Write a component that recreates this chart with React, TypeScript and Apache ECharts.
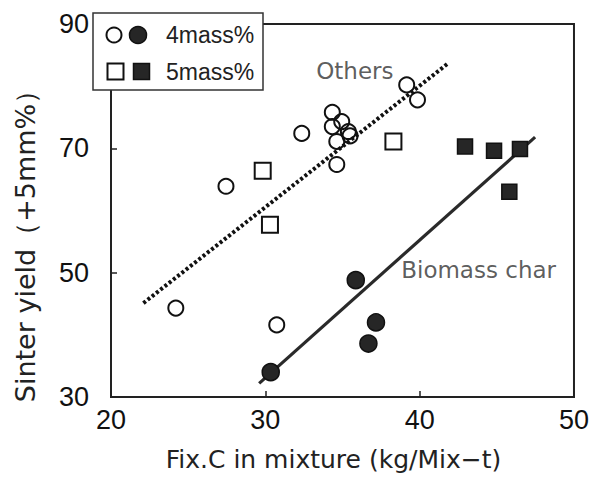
import React, { useEffect, useRef } from "react";
import * as echarts from "echarts";

// Open markers ("Others"), 4 mass%
const openCircleX = [24.2, 30.74, 27.45, 32.36, 34.34, 34.95, 34.34, 35.38, 35.49, 34.63, 34.63, 39.16, 39.86];
const openCircleY = [44.3, 41.6, 63.9, 72.4, 75.8, 74.3, 73.5, 72.7, 72.0, 71.1, 67.4, 80.2, 77.8];
// Open markers ("Others"), 5 mass%
const openSquareX = [29.83, 30.3, 38.3];
const openSquareY = [66.4, 57.7, 71.1];
// Filled markers (Biomass char), 4 mass%
const filledCircleX = [30.35, 35.86, 37.17, 36.68];
const filledCircleY = [34.0, 48.8, 42.0, 38.6];
// Filled markers (Biomass char), 5 mass%
const filledSquareX = [42.94, 44.82, 46.5, 45.81];
const filledSquareY = [70.3, 69.6, 69.9, 63.0];
// Trend lines (end points)
const othersLineX = [22.1, 41.86];
const othersLineY = [45.1, 83.7];
const biomassLineX = [29.6, 47.48];
const biomassLineY = [32.2, 71.8];
// Annotations
const annotationNames = ["Others", "Biomass char"];
const annotationX = [35.8, 43.82];
const annotationY = [82.4, 50.45];
// Axes
const xTicks = [20, 30, 40, 50];
const yTicks = [30, 50, 70, 90];
const legendLabels = ["4mass%", "5mass%"];

const zip = (xs: number[], ys: number[]) => xs.map((x, i) => [x, ys[i]]);

const GOTHIC = '"DejaVu Sans", sans-serif';
const ARIAL = 'Arial, "Liberation Sans", sans-serif';

export default function App() {
  const ref = useRef<HTMLDivElement>(null);
  useEffect(() => {
    if (!ref.current) return;
    const chart = echarts.init(ref.current, undefined, { renderer: "svg" });
    const openStyle = { color: "transparent", borderColor: "#111", borderWidth: 2, opacity: 1 };
    const filledStyle = { color: "#262626", borderColor: "#111", borderWidth: 1.5, opacity: 1 };
    const LZ = 100;
    chart.setOption({
      animation: false,
      backgroundColor: "#fff",
      grid: {
        left: 111,
        right: 18,
        top: 24,
        bottom: 82,
        show: true,
        borderColor: "#222",
        borderWidth: 2,
      },
      xAxis: {
        type: "value",
        min: xTicks[0],
        max: xTicks[xTicks.length - 1],
        interval: xTicks[1] - xTicks[0],
        name: "Fix.C in mixture (kg/Mix\u2212t)",
        nameLocation: "middle",
        nameGap: 50,
        nameTextStyle: { fontFamily: GOTHIC, fontSize: 25, color: "#222", padding: [0, 18, 0, 0] },
        axisLine: { lineStyle: { color: "#222", width: 2 } },
        axisTick: { inside: true, length: 6, lineStyle: { color: "#222", width: 1.5 } },
        axisLabel: { fontFamily: ARIAL, fontSize: 27, color: "#111", margin: 9 },
        splitLine: { show: false },
      },
      yAxis: {
        type: "value",
        min: yTicks[0],
        max: yTicks[yTicks.length - 1],
        interval: yTicks[1] - yTicks[0],
        name: "Sinter yield\uFF08+5mm%\uFF09",
        nameLocation: "middle",
        nameGap: 72,
        nameTextStyle: { fontFamily: GOTHIC, fontSize: 27, color: "#222", padding: [0, 58, 0, 0] },
        axisLine: { lineStyle: { color: "#222", width: 2 } },
        axisTick: { inside: true, length: 6, lineStyle: { color: "#222", width: 1.5 } },
        axisLabel: { fontFamily: ARIAL, fontSize: 27, color: "#111", margin: 22 },
        splitLine: { show: false },
      },
      series: [
        {
          name: "Others trend",
          type: "line",
          data: zip(othersLineX, othersLineY),
          showSymbol: false,
          symbol: "none",
          z: 3,
          lineStyle: { color: "#111", width: 4, type: [3, 2.4] },
        },
        {
          name: "Biomass trend",
          type: "line",
          data: zip(biomassLineX, biomassLineY),
          showSymbol: false,
          symbol: "none",
          z: 3,
          lineStyle: { color: "#2a2a2a", width: 3.2 },
        },
        {
          name: "Others 4mass%",
          type: "scatter",
          symbol: "circle",
          symbolSize: 15,
          data: zip(openCircleX, openCircleY),
          itemStyle: openStyle,
          z: 4,
        },
        {
          name: "Others 5mass%",
          type: "scatter",
          symbol: "rect",
          symbolSize: 16,
          data: zip(openSquareX, openSquareY),
          itemStyle: openStyle,
          z: 4,
        },
        {
          name: "Biomass 4mass%",
          type: "scatter",
          symbol: "circle",
          symbolSize: 17,
          data: zip(filledCircleX, filledCircleY),
          itemStyle: filledStyle,
          z: 4,
        },
        {
          name: "Biomass 5mass%",
          type: "scatter",
          symbol: "rect",
          symbolSize: 15,
          data: zip(filledSquareX, filledSquareY),
          itemStyle: filledStyle,
          z: 4,
        },
        {
          name: "annotations",
          type: "scatter",
          symbolSize: 1,
          silent: true,
          itemStyle: { color: "transparent" },
          data: annotationNames.map((n, i) => ({ name: n, value: [annotationX[i], annotationY[i]] })),
          label: {
            show: true,
            position: "inside",
            formatter: (p: any) => p.name,
            fontFamily: GOTHIC,
            fontSize: 23,
            color: "#333",
          },
          z: 5,
        },
      ],
      graphic: [
        {
          type: "rect",
          z: LZ,
          shape: { x: 93, y: 13, width: 170, height: 77 },
          style: { fill: "#fff", stroke: "#333", lineWidth: 1.5 },
        },
        {
          type: "circle",
          z: LZ + 1,
          shape: { cx: 114, cy: 35, r: 7.5 },
          style: { fill: "#fff", stroke: "#111", lineWidth: 2 },
        },
        {
          type: "circle",
          z: LZ + 1,
          shape: { cx: 138, cy: 35, r: 8.5 },
          style: { fill: "#262626", stroke: "#111", lineWidth: 1.5 },
        },
        {
          type: "rect",
          z: LZ + 1,
          shape: { x: 107.5, y: 63.5, width: 16, height: 16 },
          style: { fill: "#fff", stroke: "#111", lineWidth: 2 },
        },
        {
          type: "rect",
          z: LZ + 1,
          shape: { x: 133.5, y: 63.5, width: 16, height: 16 },
          style: { fill: "#262626", stroke: "#111", lineWidth: 1.5 },
        },
        {
          type: "text",
          z: LZ + 1,
          x: 166,
          y: 35,
          style: {
            text: legendLabels[0],
            fontFamily: ARIAL,
            fontSize: 23,
            fill: "#222",
            verticalAlign: "middle",
            align: "left",
          },
        },
        {
          type: "text",
          z: LZ + 1,
          x: 166,
          y: 72,
          style: {
            text: legendLabels[1],
            fontFamily: ARIAL,
            fontSize: 23,
            fill: "#222",
            verticalAlign: "middle",
            align: "left",
          },
        },
      ],
    });
    return () => chart.dispose();
  }, []);
  return (
    <div
      ref={ref}
      style={{ position: "fixed", left: 0, top: 0, width: 592, height: 479, background: "#fff" }}
    />
  );
}
